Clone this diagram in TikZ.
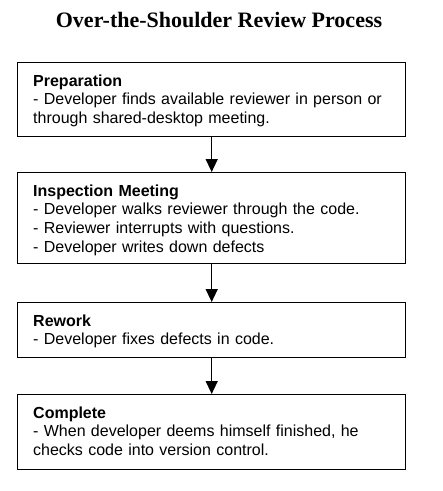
\documentclass[tikz,border=0pt]{standalone}
\usepackage{fontspec}
\setmainfont{Liberation Serif}
\setsansfont{Liberation Sans}
\usetikzlibrary{arrows.meta}
\tikzset{
  stepbox/.style={draw=black, line width=1.4pt, rectangle, inner sep=0pt,
    minimum width=388pt, anchor=north west},
  boxtext/.style={anchor=base west, inner sep=0pt, text width=375pt, align=left,
    font=\sffamily\fontsize{16pt}{18.7pt}\selectfont},
  flowarrow/.style={line width=1.4pt, -{Triangle[width=12pt,length=13pt]}},
  titletext/.style={anchor=base, inner sep=0pt, font=\rmfamily\bfseries\fontsize{22pt}{26pt}\selectfont}
}
\begin{document}
\begin{tikzpicture}[x=1pt,y=-1pt]
\useasboundingbox (0,0) rectangle (443,491);
\node[titletext] (title) at (219,27) {Over-the-Shoulder Review Process};
\node[stepbox, minimum height=74pt] (b1) at (17,62) {};
\node[stepbox, minimum height=91pt] (b2) at (17,172) {};
\node[stepbox, minimum height=55pt] (b3) at (17,302) {};
\node[stepbox, minimum height=75pt] (b4) at (17,394) {};
\node[boxtext] (t1) at ([xshift=16pt,yshift=-24pt]b1.north west) {\textbf{Preparation}\\- Developer finds available reviewer in person or\\through shared-desktop meeting.};
\node[boxtext] (t2) at ([xshift=16pt,yshift=-24pt]b2.north west) {\textbf{Inspection Meeting}\\- Developer walks reviewer through the code.\\- Reviewer interrupts with questions.\\- Developer writes down defects};
\node[boxtext] (t3) at ([xshift=16pt,yshift=-24pt]b3.north west) {\textbf{Rework}\\- Developer fixes defects in code.};
\node[boxtext] (t4) at ([xshift=16pt,yshift=-24pt]b4.north west) {\textbf{Complete}\\- When developer deems himself finished, he\\checks code into version control.};
\draw[flowarrow] (b1.south) -- (b2.north);
\draw[flowarrow] (b2.south) -- (b3.north);
\draw[flowarrow] (b3.south) -- (b4.north);
\end{tikzpicture}
\end{document}
